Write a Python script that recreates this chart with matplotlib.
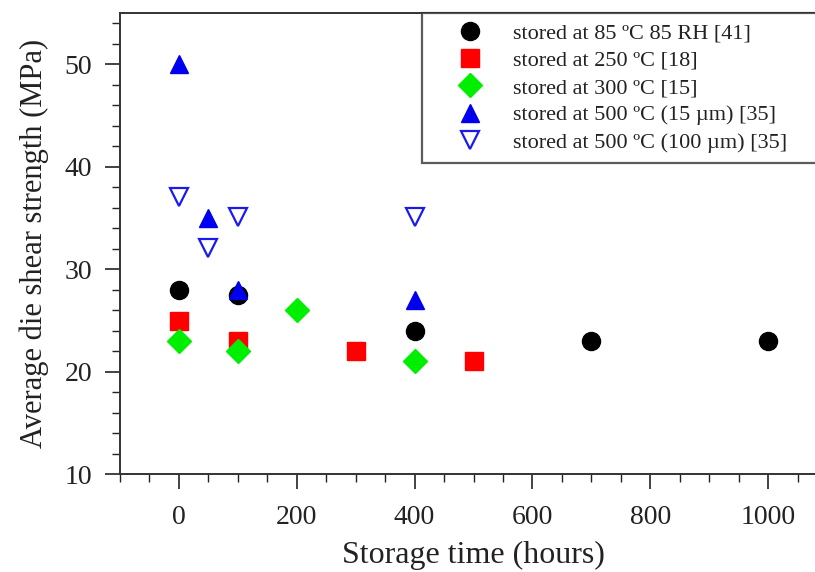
"""
Average die shear strength vs storage time for several storage conditions.
"""
import matplotlib
matplotlib.use("Agg")
import matplotlib.pyplot as plt
from matplotlib.ticker import MultipleLocator

plt.rcParams['font.family'] = ['Liberation Serif', 'DejaVu Serif']

# data
rh85_hours = [0, 100, 400, 700, 1000]
rh85_mpa = [28, 27.5, 24, 23, 23]

t250_hours = [0, 100, 300, 500]
t250_mpa = [25, 23, 22, 21]

t300_hours = [0, 100, 200, 400]
t300_mpa = [23, 22, 26, 21]

t500_15_hours = [0, 50, 100, 400]
t500_15_mpa = [50, 35, 28, 27]

t500_100_hours = [0, 50, 100, 400]
t500_100_mpa = [37.1, 32.1, 35.1, 35.1]

labels = [
    "stored at 85 \u00baC 85 RH [41]",
    "stored at 250 \u00baC [18]",
    "stored at 300 \u00baC [15]",
    "stored at 500 \u00baC (15 \u00b5m) [35]",
    "stored at 500 \u00baC (100 \u00b5m) [35]",
]

fig = plt.figure(figsize=(8.15, 5.72), dpi=100)
# axes runs a little past the right edge, as in the cropped original
ax = fig.add_axes([0.147, 0.171, 0.868, 0.806])

ax.plot(rh85_hours, rh85_mpa, 'o', color='black', ms=13, ls='none', label=labels[0])
ax.plot(t250_hours, t250_mpa, 's', color='#ff0000', ms=13, ls='none', label=labels[1])
ax.plot(t300_hours, t300_mpa, 'D', color='#00ee00', ms=12, ls='none', label=labels[2])
ax.plot(t500_15_hours, t500_15_mpa, '^', color='#0000ee', ms=13, ls='none', label=labels[3])
ax.plot(t500_100_hours, t500_100_mpa, 'v', mfc='none', mec='#1a1aee', mew=1.6,
        ms=13, ls='none', label=labels[4])

ax.set_xlim(-100, 1100)
ax.set_ylim(10, 55)
ax.xaxis.set_major_locator(MultipleLocator(200))
ax.xaxis.set_minor_locator(MultipleLocator(50))
ax.yaxis.set_major_locator(MultipleLocator(10))
ax.yaxis.set_minor_locator(MultipleLocator(2))
ax.tick_params(which='major', direction='out', length=11, width=1.2, labelsize=20,
               colors='#222222', pad=9)
ax.tick_params(which='minor', direction='out', length=6, width=1.0, colors='#222222')
ax.tick_params(axis='x', which='major', pad=11)

for s in ax.spines.values():
    s.set_linewidth(1.4)
    s.set_color('#333333')

ax.set_xlabel("Storage time (hours)", fontsize=23, color='#222222', labelpad=8)
ax.set_ylabel("Average die shear strength (MPa)", fontsize=22, color='#222222', labelpad=11)

leg = ax.legend(loc='upper left', bbox_to_anchor=(0.427, 1.0, 0.66, 0.0), mode='expand',
                borderaxespad=0.0, fontsize=16, frameon=True, fancybox=False,
                handletextpad=0.22, borderpad=0.45, labelspacing=0.3, handlelength=3.42,
                numpoints=1)
leg.get_frame().set_edgecolor('#333333')
leg.get_frame().set_linewidth(1.6)
for t in leg.get_texts():
    t.set_color('#222222')

fig.savefig("out.png", dpi=100)
